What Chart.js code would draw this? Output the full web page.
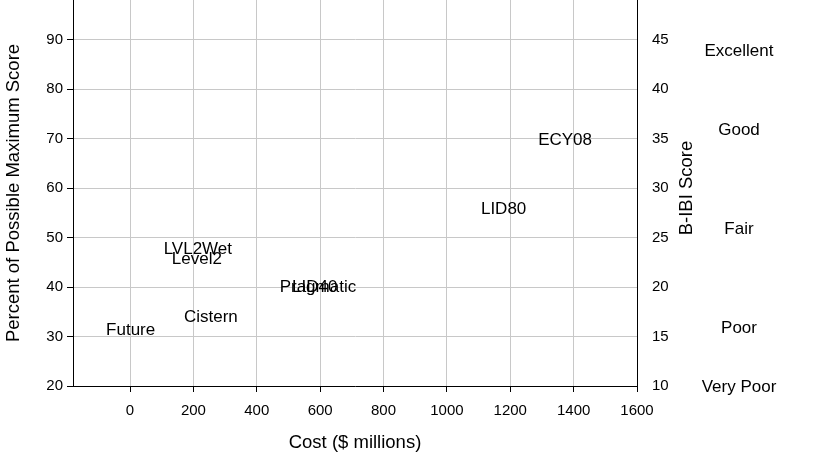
<!DOCTYPE html>
<html>
<head>
<meta charset="utf-8">
<script src="https://cdn.jsdelivr.net/npm/chart.js@4"></script>
<style>
  html, body { margin: 0; padding: 0; background: #fff; }
  #wrap { width: 825px; height: 458px; }
</style>
</head>
<body>
<div id="wrap"><canvas id="costChart"></canvas></div>
<script>
// Alternatives: cost vs. score
const alternatives = ['Future', 'Cistern', 'LVL2Wet', 'Level2', 'Pragmatic', 'LID40', 'LID80', 'ECY08'];
const costs = [2, 255, 214, 211, 593, 583, 1179, 1373];
const scores = [31.6, 34.1, 47.9, 46.0, 40.3, 40.3, 56.1, 69.9];

// Axis ticks
const costTicks = [0, 200, 400, 600, 800, 1000, 1200, 1400, 1600];
const percentTicks = [20, 30, 40, 50, 60, 70, 80, 90];
const bibiTicks = [10, 15, 20, 25, 30, 35, 40, 45];

// B-IBI condition classes (placed on the right-hand scale)
const conditionNames = ['Excellent', 'Good', 'Fair', 'Poor', 'Very Poor'];
const conditionScores = [44, 36, 26, 16, 10];

const FONT = '"Liberation Sans", Arial, Helvetica, sans-serif';
const GRID = '#c8c8c8';
const TEXT_NUDGE = 1.5; // canvas 'middle' sits a bit high vs. cap centre

const setTicks = values => scale => {
  scale.ticks = values.map(v => ({ value: v }));
};

// fixed box size, and no extra room for overhanging labels
const fixBox = (w, h) => scale => {
  if (w) scale.width = w;
  if (h) scale.height = h;
  scale.paddingTop = 0;
  scale.paddingBottom = 0;
  scale.paddingLeft = 0;
  scale.paddingRight = 0;
};

// draws each alternative's name centred on its point
const textPoints = {
  id: 'textPoints',
  afterDatasetsDraw(chart) {
    const { ctx } = chart;
    const meta = chart.getDatasetMeta(0);
    ctx.save();
    ctx.font = '17px ' + FONT;
    ctx.fillStyle = '#000';
    ctx.textAlign = 'center';
    ctx.textBaseline = 'middle';
    meta.data.forEach((pt, i) => {
      ctx.fillText(alternatives[i], pt.x, pt.y + TEXT_NUDGE);
    });
    ctx.restore();
  },
};

// right side: B-IBI title (reads upward) and condition classes
const rightSide = {
  id: 'rightSide',
  afterDraw(chart) {
    const { ctx } = chart;
    const y2 = chart.scales.y2;
    ctx.save();
    ctx.fillStyle = '#000';
    ctx.textBaseline = 'middle';
    ctx.textAlign = 'center';

    ctx.font = '18.5px ' + FONT;
    ctx.save();
    ctx.translate(687, 188);
    ctx.rotate(-Math.PI / 2);
    ctx.fillText('B-IBI Score', 0, 0);
    ctx.restore();

    ctx.font = '17px ' + FONT;
    conditionNames.forEach((name, i) => {
      ctx.fillText(name, 739, y2.getPixelForValue(conditionScores[i]) + TEXT_NUDGE);
    });
    ctx.restore();
  },
};

new Chart(document.getElementById('costChart'), {
  type: 'scatter',
  data: {
    datasets: [
      {
        data: costs.map((c, i) => ({ x: c, y: scores[i] })),
        pointRadius: 0,
        pointHoverRadius: 0,
      },
    ],
  },
  options: {
    responsive: true,
    maintainAspectRatio: false,
    animation: false,
    devicePixelRatio: 1,
    layout: { padding: 0 },
    plugins: {
      legend: { display: false },
      tooltip: { enabled: false },
    },
    scales: {
      x: {
        type: 'linear',
        position: 'bottom',
        min: -180,
        max: 1600,
        afterBuildTicks: setTicks(costTicks),
        afterFit: fixBox(0, 72),
        grid: { color: GRID, tickColor: '#000', tickLength: 6, lineWidth: 1 },
        border: { color: '#000', width: 1 },
        ticks: {
          color: '#000',
          padding: 10,
          maxRotation: 0,
          callback: v => String(v),
          font: { family: FONT, size: 15 },
        },
        title: {
          display: true,
          text: 'Cost ($ millions)',
          color: '#000',
          font: { family: FONT, size: 18.5 },
          padding: { top: 0, bottom: 4 },
        },
      },
      y: {
        type: 'linear',
        position: 'left',
        min: 20,
        max: 98,
        afterBuildTicks: setTicks(percentTicks),
        afterFit: fixBox(73, 0),
        grid: { color: GRID, tickColor: '#000', tickLength: 6, lineWidth: 1 },
        border: { color: '#000', width: 1 },
        ticks: {
          color: '#000',
          padding: 4,
          callback: v => String(v),
          font: { family: FONT, size: 15 },
        },
        title: {
          display: true,
          text: 'Percent of Possible Maximum Score',
          color: '#000',
          font: { family: FONT, size: 18.5 },
          padding: { top: 3, bottom: 0 },
        },
      },
      y2: {
        type: 'linear',
        position: 'right',
        min: 10,
        max: 49,
        afterBuildTicks: setTicks(bibiTicks),
        afterFit: fixBox(188, 0),
        grid: { display: false },
        border: { display: true, color: '#000', width: 1 },
        ticks: {
          color: '#000',
          padding: 7,
          callback: v => String(v),
          font: { family: FONT, size: 15 },
        },
      },
    },
  },
  plugins: [textPoints, rightSide],
});
</script>
</body>
</html>
